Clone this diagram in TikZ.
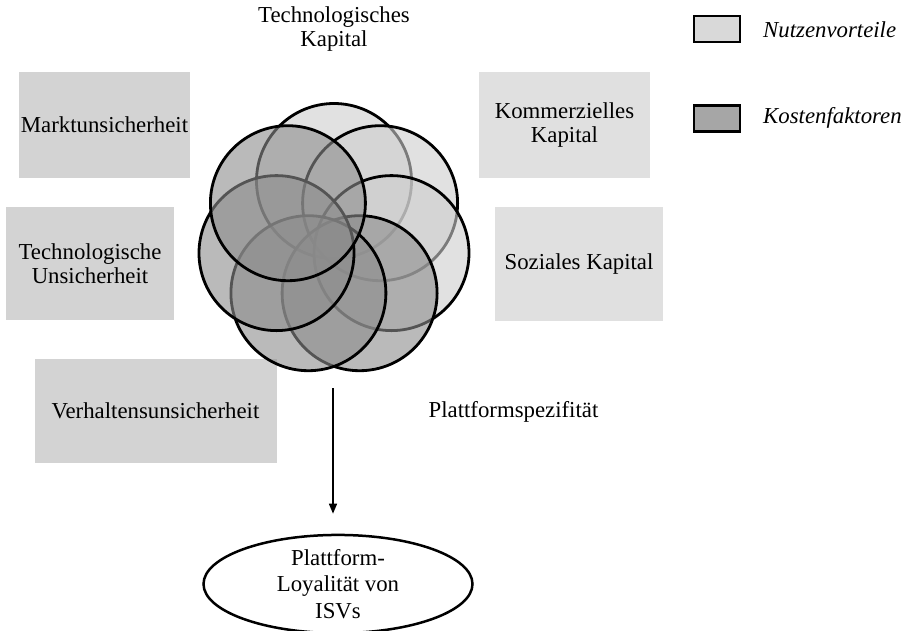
\documentclass[tikz,border=0pt]{standalone}
\usepackage{fontspec}
\setmainfont{Liberation Serif}
\usetikzlibrary{arrows.meta,shapes.geometric}
\definecolor{boxcost}{RGB}{211,211,211}
\definecolor{boxben}{RGB}{224,224,224}
\definecolor{legben}{RGB}{217,217,217}
\definecolor{legcost}{RGB}{166,166,166}
\definecolor{cirben}{RGB}{205,205,205}
\definecolor{circost}{RGB}{140,140,140}
\begin{document}
\begin{tikzpicture}[x=1pt,y=-1pt,
  txt/.style={font=\fontsize{22.8}{24}\selectfont, align=center, inner sep=0pt},
  costbox/.style={txt, fill=boxcost},
  benbox/.style={txt, fill=boxben},
  circbase/.style={circle, draw=black, line width=2.8pt, fill opacity=0.6, minimum size=155pt, inner sep=0pt},
  bencirc/.style={circbase, fill=cirben},
  costcirc/.style={circbase, fill=circost},
  legbox/.style={draw=black, line width=2.5pt, minimum width=46pt, minimum height=26pt, inner sep=0pt},
  legtxt/.style={txt, font=\fontsize{22.8}{24}\selectfont\itshape, anchor=west}
]
\useasboundingbox (0,0) rectangle (912,630);

% boxes
\node[costbox, minimum width=171pt, minimum height=106pt] (markt) at (104.5,125) {Marktunsicherheit};
\node[costbox, minimum width=168pt, minimum height=113pt] (techu) at (90,263.5) {Technologische\\Unsicherheit};
\node[costbox, minimum width=242pt, minimum height=104pt] (verh) at (155.5,411) {Verhaltensunsicherheit};
\node[benbox, minimum width=171pt, minimum height=106pt] (komm) at (564.5,125) {Kommerzielles\\Kapital};
\node[benbox, minimum width=168pt, minimum height=114pt] (soz) at (579,264) {Soziales Kapital};

% free labels
\node[txt] (techk) at (334,29) {Technologisches\\Kapital};
\node[txt] (plattsp) at (513.5,412) {Plattformspezifität};

% circles
\node[bencirc] (c1) at (334,181) {};
\node[bencirc] (c2) at (380.1,203.2) {};
\node[bencirc] (c3) at (391.5,253.1) {};
\node[costcirc] (c4) at (359.6,293.2) {};
\node[costcirc] (c5) at (308.4,293.2) {};
\node[costcirc] (c6) at (276.5,253.1) {};
\node[costcirc] (c7) at (287.9,203.2) {};

% outcome
\node[ellipse, draw=black, line width=2.5pt, minimum width=269pt, minimum height=93pt, inner sep=0pt,
      font=\fontsize{22.8}{26.5}\selectfont, align=center] (loy) at (338,584) {Plattform-\\Loyalität von\\ISVs};
\coordinate (astart) at (333,388);
\draw[line width=1.5pt, -{Triangle[length=10pt,width=8pt]}, shorten >=20pt] (astart) -- (astart |- loy.north);

% legend
\node[legbox, fill=legben] (lb1) at (717,29) {};
\node[legbox, fill=legcost] (lb2) at (717,118.5) {};
\node[legtxt] (lt1) at (763,30) {Nutzenvorteile};
\node[legtxt] (lt2) at (763,118) {Kostenfaktoren};
\end{tikzpicture}
\end{document}
